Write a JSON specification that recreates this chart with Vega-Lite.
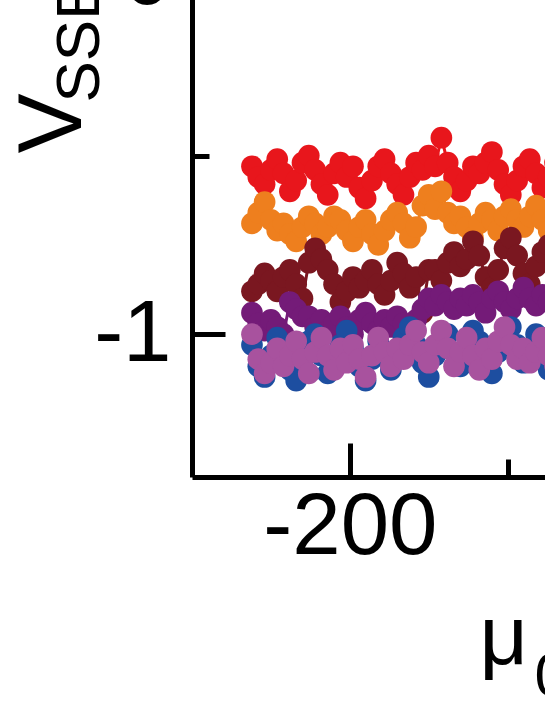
{
"$schema":"https://vega.github.io/schema/vega-lite/v6.json",
"autosize":{"type":"none"},
"padding":{"left":192,"top":-523,"right":-594,"bottom":228},
"width":947,"height":1000,
"config":{"view":{"stroke":null},"axis":{"grid":false,"labelFont":"Liberation Sans","titleFont":"Liberation Sans","labelColor":"#000","titleColor":"#000","domainColor":"#000","tickColor":"#000","titleFontWeight":"normal"}},
"datasets":{"pts":[
{"x":-262,"s":"r","v":-0.53},{"x":-258,"s":"r","v":-0.56},{"x":-254,"s":"r","v":-0.58},{"x":-250,"s":"r","v":-0.54},{"x":-246,"s":"r","v":-0.51},{"x":-242,"s":"r","v":-0.55},{"x":-238,"s":"r","v":-0.60},{"x":-234,"s":"r","v":-0.57},{"x":-230,"s":"r","v":-0.52},{"x":-226,"s":"r","v":-0.50},
{"x":-222,"s":"r","v":-0.54},{"x":-218,"s":"r","v":-0.58},{"x":-214,"s":"r","v":-0.61},{"x":-210,"s":"r","v":-0.55},{"x":-206,"s":"r","v":-0.52},{"x":-202,"s":"r","v":-0.56},{"x":-198,"s":"r","v":-0.53},{"x":-194,"s":"r","v":-0.59},{"x":-190,"s":"r","v":-0.62},{"x":-186,"s":"r","v":-0.57},
{"x":-182,"s":"r","v":-0.53},{"x":-178,"s":"r","v":-0.51},{"x":-174,"s":"r","v":-0.55},{"x":-170,"s":"r","v":-0.58},{"x":-166,"s":"r","v":-0.61},{"x":-162,"s":"r","v":-0.56},{"x":-158,"s":"r","v":-0.52},{"x":-154,"s":"r","v":-0.54},{"x":-150,"s":"r","v":-0.50},{"x":-146,"s":"r","v":-0.53},
{"x":-142,"s":"r","v":-0.45},{"x":-138,"s":"r","v":-0.52},{"x":-134,"s":"r","v":-0.56},{"x":-130,"s":"r","v":-0.60},{"x":-126,"s":"r","v":-0.57},{"x":-122,"s":"r","v":-0.53},{"x":-118,"s":"r","v":-0.55},{"x":-114,"s":"r","v":-0.52},{"x":-110,"s":"r","v":-0.49},{"x":-106,"s":"r","v":-0.54},
{"x":-102,"s":"r","v":-0.58},{"x":-98,"s":"r","v":-0.61},{"x":-94,"s":"r","v":-0.57},{"x":-90,"s":"r","v":-0.53},{"x":-86,"s":"r","v":-0.51},{"x":-82,"s":"r","v":-0.55},{"x":-78,"s":"r","v":-0.59},{"x":-74,"s":"r","v":-0.56},{"x":-70,"s":"r","v":-0.52},{"x":-66,"s":"r","v":-0.55},
{"x":-262,"s":"o","v":-0.69},{"x":-258,"s":"o","v":-0.66},{"x":-254,"s":"o","v":-0.63},{"x":-250,"s":"o","v":-0.68},{"x":-246,"s":"o","v":-0.71},{"x":-242,"s":"o","v":-0.69},{"x":-238,"s":"o","v":-0.72},{"x":-234,"s":"o","v":-0.74},{"x":-230,"s":"o","v":-0.70},{"x":-226,"s":"o","v":-0.67},
{"x":-222,"s":"o","v":-0.69},{"x":-218,"s":"o","v":-0.72},{"x":-214,"s":"o","v":-0.70},{"x":-210,"s":"o","v":-0.67},{"x":-206,"s":"o","v":-0.68},{"x":-202,"s":"o","v":-0.71},{"x":-198,"s":"o","v":-0.74},{"x":-194,"s":"o","v":-0.70},{"x":-190,"s":"o","v":-0.68},{"x":-186,"s":"o","v":-0.72},
{"x":-182,"s":"o","v":-0.75},{"x":-178,"s":"o","v":-0.71},{"x":-174,"s":"o","v":-0.68},{"x":-170,"s":"o","v":-0.66},{"x":-166,"s":"o","v":-0.69},{"x":-162,"s":"o","v":-0.73},{"x":-158,"s":"o","v":-0.70},{"x":-154,"s":"o","v":-0.64},{"x":-150,"s":"o","v":-0.61},{"x":-146,"s":"o","v":-0.65},
{"x":-142,"s":"o","v":-0.60},{"x":-138,"s":"o","v":-0.66},{"x":-134,"s":"o","v":-0.69},{"x":-130,"s":"o","v":-0.67},{"x":-126,"s":"o","v":-0.70},{"x":-122,"s":"o","v":-0.73},{"x":-118,"s":"o","v":-0.69},{"x":-114,"s":"o","v":-0.66},{"x":-110,"s":"o","v":-0.68},{"x":-106,"s":"o","v":-0.71},
{"x":-102,"s":"o","v":-0.67},{"x":-98,"s":"o","v":-0.65},{"x":-94,"s":"o","v":-0.68},{"x":-90,"s":"o","v":-0.70},{"x":-86,"s":"o","v":-0.67},{"x":-82,"s":"o","v":-0.64},{"x":-78,"s":"o","v":-0.68},{"x":-74,"s":"o","v":-0.71},{"x":-70,"s":"o","v":-0.67},{"x":-66,"s":"o","v":-0.66},
{"x":-262,"s":"m","v":-0.88},{"x":-258,"s":"m","v":-0.86},{"x":-254,"s":"m","v":-0.83},{"x":-250,"s":"m","v":-0.85},{"x":-246,"s":"m","v":-0.88},{"x":-242,"s":"m","v":-0.84},{"x":-238,"s":"m","v":-0.82},{"x":-234,"s":"m","v":-0.86},{"x":-230,"s":"m","v":-0.90},{"x":-226,"s":"m","v":-0.80},
{"x":-222,"s":"m","v":-0.76},{"x":-218,"s":"m","v":-0.79},{"x":-214,"s":"m","v":-0.82},{"x":-210,"s":"m","v":-0.86},{"x":-206,"s":"m","v":-0.91},{"x":-202,"s":"m","v":-0.88},{"x":-198,"s":"m","v":-0.84},{"x":-194,"s":"m","v":-0.87},{"x":-190,"s":"m","v":-0.85},{"x":-186,"s":"m","v":-0.82},
{"x":-182,"s":"m","v":-0.86},{"x":-178,"s":"m","v":-0.89},{"x":-174,"s":"m","v":-0.85},{"x":-170,"s":"m","v":-0.80},{"x":-166,"s":"m","v":-0.83},{"x":-162,"s":"m","v":-0.87},{"x":-158,"s":"m","v":-0.84},{"x":-154,"s":"m","v":-0.94},{"x":-150,"s":"m","v":-0.82},{"x":-146,"s":"m","v":-0.82},
{"x":-142,"s":"m","v":-0.85},{"x":-138,"s":"m","v":-0.80},{"x":-134,"s":"m","v":-0.77},{"x":-130,"s":"m","v":-0.81},{"x":-126,"s":"m","v":-0.79},{"x":-122,"s":"m","v":-0.74},{"x":-118,"s":"m","v":-0.78},{"x":-114,"s":"m","v":-0.84},{"x":-110,"s":"m","v":-0.87},{"x":-106,"s":"m","v":-0.82},
{"x":-102,"s":"m","v":-0.76},{"x":-98,"s":"m","v":-0.73},{"x":-94,"s":"m","v":-0.78},{"x":-90,"s":"m","v":-0.83},{"x":-86,"s":"m","v":-0.86},{"x":-82,"s":"m","v":-0.81},{"x":-78,"s":"m","v":-0.77},{"x":-74,"s":"m","v":-0.75},{"x":-70,"s":"m","v":-0.80},{"x":-66,"s":"m","v":-0.84},
{"x":-262,"s":"p","v":-0.94},{"x":-258,"s":"p","v":-0.97},{"x":-254,"s":"p","v":-0.99},{"x":-250,"s":"p","v":-0.96},{"x":-246,"s":"p","v":-0.98},{"x":-242,"s":"p","v":-1.00},{"x":-238,"s":"p","v":-0.91},{"x":-234,"s":"p","v":-0.93},{"x":-230,"s":"p","v":-0.95},{"x":-226,"s":"p","v":-0.95},
{"x":-222,"s":"p","v":-0.98},{"x":-218,"s":"p","v":-0.96},{"x":-214,"s":"p","v":-0.99},{"x":-210,"s":"p","v":-0.97},{"x":-206,"s":"p","v":-0.95},{"x":-202,"s":"p","v":-0.98},{"x":-198,"s":"p","v":-1.00},{"x":-194,"s":"p","v":-0.96},{"x":-190,"s":"p","v":-0.94},{"x":-186,"s":"p","v":-0.97},
{"x":-182,"s":"p","v":-0.99},{"x":-178,"s":"p","v":-0.96},{"x":-174,"s":"p","v":-0.98},{"x":-170,"s":"p","v":-0.95},{"x":-166,"s":"p","v":-0.97},{"x":-162,"s":"p","v":-0.99},{"x":-158,"s":"p","v":-0.96},{"x":-154,"s":"p","v":-0.93},{"x":-150,"s":"p","v":-0.90},{"x":-146,"s":"p","v":-0.92},
{"x":-142,"s":"p","v":-0.89},{"x":-138,"s":"p","v":-0.91},{"x":-134,"s":"p","v":-0.93},{"x":-130,"s":"p","v":-0.90},{"x":-126,"s":"p","v":-0.92},{"x":-122,"s":"p","v":-0.89},{"x":-118,"s":"p","v":-0.91},{"x":-114,"s":"p","v":-0.94},{"x":-110,"s":"p","v":-0.90},{"x":-106,"s":"p","v":-0.88},
{"x":-102,"s":"p","v":-0.91},{"x":-98,"s":"p","v":-0.93},{"x":-94,"s":"p","v":-0.90},{"x":-90,"s":"p","v":-0.87},{"x":-86,"s":"p","v":-0.90},{"x":-82,"s":"p","v":-0.92},{"x":-78,"s":"p","v":-0.89},{"x":-74,"s":"p","v":-0.91},{"x":-70,"s":"p","v":-0.93},{"x":-66,"s":"p","v":-0.90},
{"x":-262,"s":"b","v":-1.03},{"x":-258,"s":"b","v":-1.09},{"x":-254,"s":"b","v":-1.12},{"x":-250,"s":"b","v":-1.06},{"x":-246,"s":"b","v":-1.01},{"x":-242,"s":"b","v":-1.05},{"x":-238,"s":"b","v":-1.10},{"x":-234,"s":"b","v":-1.13},{"x":-230,"s":"b","v":-1.07},{"x":-226,"s":"b","v":-1.02},
{"x":-222,"s":"b","v":-1.00},{"x":-218,"s":"b","v":-1.06},{"x":-214,"s":"b","v":-1.11},{"x":-210,"s":"b","v":-1.08},{"x":-206,"s":"b","v":-1.03},{"x":-202,"s":"b","v":-0.99},{"x":-198,"s":"b","v":-1.04},{"x":-194,"s":"b","v":-1.09},{"x":-190,"s":"b","v":-1.13},{"x":-186,"s":"b","v":-1.07},
{"x":-182,"s":"b","v":-1.02},{"x":-178,"s":"b","v":-1.05},{"x":-174,"s":"b","v":-1.10},{"x":-170,"s":"b","v":-1.06},{"x":-166,"s":"b","v":-1.01},{"x":-162,"s":"b","v":-0.98},{"x":-158,"s":"b","v":-1.03},{"x":-154,"s":"b","v":-1.08},{"x":-150,"s":"b","v":-1.12},{"x":-146,"s":"b","v":-1.06},
{"x":-142,"s":"b","v":-1.02},{"x":-138,"s":"b","v":-1.00},{"x":-134,"s":"b","v":-1.05},{"x":-130,"s":"b","v":-1.09},{"x":-126,"s":"b","v":-1.04},{"x":-122,"s":"b","v":-0.99},{"x":-118,"s":"b","v":-1.02},{"x":-114,"s":"b","v":-1.07},{"x":-110,"s":"b","v":-1.11},{"x":-106,"s":"b","v":-1.05},
{"x":-102,"s":"b","v":-1.01},{"x":-98,"s":"b","v":-0.98},{"x":-94,"s":"b","v":-1.03},{"x":-90,"s":"b","v":-1.08},{"x":-86,"s":"b","v":-1.04},{"x":-82,"s":"b","v":-1.00},{"x":-78,"s":"b","v":-1.05},{"x":-74,"s":"b","v":-1.10},{"x":-70,"s":"b","v":-1.06},{"x":-66,"s":"b","v":-1.02},
{"x":-262,"s":"k","v":-1.00},{"x":-258,"s":"k","v":-1.07},{"x":-254,"s":"k","v":-1.11},{"x":-250,"s":"k","v":-1.08},{"x":-246,"s":"k","v":-1.04},{"x":-242,"s":"k","v":-1.09},{"x":-238,"s":"k","v":-1.06},{"x":-234,"s":"k","v":-1.02},{"x":-230,"s":"k","v":-1.07},{"x":-226,"s":"k","v":-1.11},
{"x":-222,"s":"k","v":-1.05},{"x":-218,"s":"k","v":-1.01},{"x":-214,"s":"k","v":-1.06},{"x":-210,"s":"k","v":-1.10},{"x":-206,"s":"k","v":-1.04},{"x":-202,"s":"k","v":-1.08},{"x":-198,"s":"k","v":-1.03},{"x":-194,"s":"k","v":-1.07},{"x":-190,"s":"k","v":-1.12},{"x":-186,"s":"k","v":-1.06},
{"x":-182,"s":"k","v":-1.01},{"x":-178,"s":"k","v":-1.05},{"x":-174,"s":"k","v":-1.09},{"x":-170,"s":"k","v":-1.04},{"x":-166,"s":"k","v":-1.07},{"x":-162,"s":"k","v":-1.03},{"x":-158,"s":"k","v":-0.99},{"x":-154,"s":"k","v":-1.05},{"x":-150,"s":"k","v":-1.08},{"x":-146,"s":"k","v":-1.03},
{"x":-142,"s":"k","v":-0.99},{"x":-138,"s":"k","v":-1.04},{"x":-134,"s":"k","v":-1.09},{"x":-130,"s":"k","v":-1.05},{"x":-126,"s":"k","v":-1.01},{"x":-122,"s":"k","v":-1.06},{"x":-118,"s":"k","v":-1.10},{"x":-114,"s":"k","v":-1.04},{"x":-110,"s":"k","v":-1.07},{"x":-106,"s":"k","v":-1.02},
{"x":-102,"s":"k","v":-0.98},{"x":-98,"s":"k","v":-1.03},{"x":-94,"s":"k","v":-1.07},{"x":-90,"s":"k","v":-1.04},{"x":-86,"s":"k","v":-1.08},{"x":-82,"s":"k","v":-1.05},{"x":-78,"s":"k","v":-1.01},{"x":-74,"s":"k","v":-1.06},{"x":-70,"s":"k","v":-1.09},{"x":-66,"s":"k","v":-1.04}
]},
"data":{"name":"pts"},
"layer":[
{"mark":{"type":"line","strokeWidth":3,"point":{"filled":true,"size":470,"opacity":1}},
 "encoding":{
  "x":{"field":"x","type":"quantitative","scale":{"domain":[-300,300],"nice":false,"zero":false},
   "axis":{"orient":"bottom","values":[-200,0,200],"labelExpr":"datum.value + ''","tickSize":-34,"tickWidth":5,"domainWidth":5,"labelFontSize":87,"labelPadding":41,"labelFlush":false,"labelOverlap":false,
    "title":"μ","titleFontSize":84,"titleX":287,"titleY":186,"titleAlign":"left","titleBaseline":"alphabetic","titleAngle":0}},
  "y":{"field":"v","type":"quantitative","scale":{"domain":[-1.4,1.4],"nice":false,"zero":false},
   "axis":{"orient":"left","values":[-1,0,1],"labelExpr":"datum.value + ''","tickSize":-33,"tickWidth":5,"domainWidth":5,"labelFontSize":87,"labelPadding":54,"labelFlush":false,"labelOverlap":false,
    "title":"V","titleFontSize":90,"titleX":-112,"titleY":676,"titleAlign":"left","titleBaseline":"alphabetic","titleAngle":270}},
  "color":{"field":"s","type":"nominal","scale":{"domain":["r","o","m","p","b","k"],"range":["#E8161C","#EE7F1E","#7A1720","#741B78","#1D4EA0","#A8529E"]},"legend":null}
 }},
{"mark":{"type":"point","opacity":0},
 "encoding":{
  "x":{"field":"x","type":"quantitative","axis":{"orient":"bottom","values":[-100,100],"labels":false,"domain":false,"tickSize":-18,"tickWidth":5,
    "title":"0","titleFontSize":62,"titleX":342,"titleY":218,"titleAlign":"left","titleBaseline":"alphabetic","titleAngle":0}},
  "y":{"field":"v","type":"quantitative","axis":{"orient":"left","values":[-0.5,0.5],"labels":false,"domain":false,"tickSize":-17,"tickWidth":5,
    "title":"SSE","titleFontSize":62,"titleX":-94,"titleY":625,"titleAlign":"left","titleBaseline":"alphabetic","titleAngle":270}}
 }},
{"mark":{"type":"point","opacity":0},
 "encoding":{
  "x":{"field":"x","type":"quantitative","axis":{"orient":"bottom","ticks":false,"labels":false,"domain":false,
    "title":"H (mT)","titleFontSize":84,"titleX":376,"titleY":186,"titleAlign":"left","titleBaseline":"alphabetic","titleAngle":0}},
  "y":{"field":"v","type":"quantitative","axis":{"orient":"left","ticks":false,"labels":false,"domain":false,
    "title":"(μV)","titleFontSize":90,"titleX":-112,"titleY":490,"titleAlign":"left","titleBaseline":"alphabetic","titleAngle":270}}
 }}
],
"resolve":{"axis":{"x":"independent","y":"independent"}}
}
